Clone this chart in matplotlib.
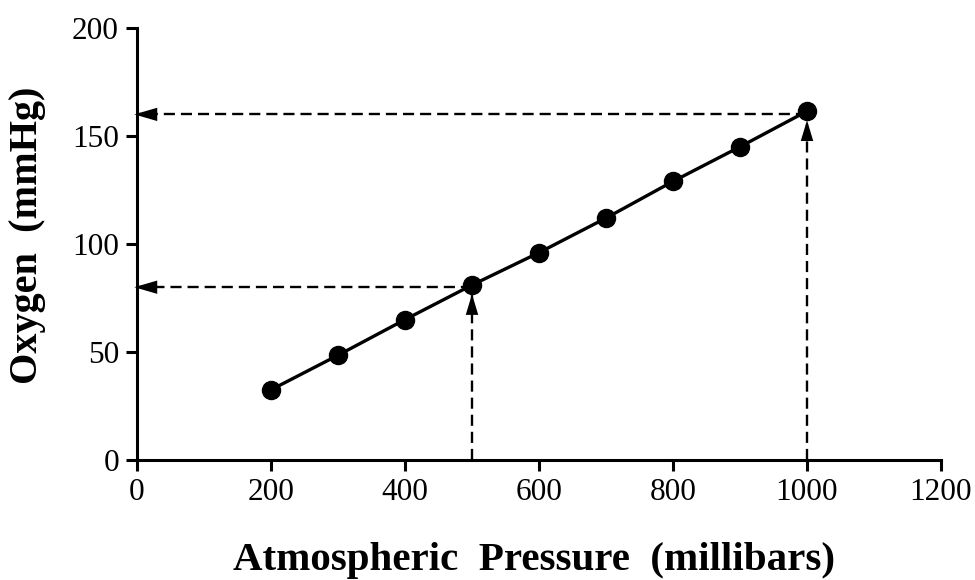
import numpy as np
import matplotlib
matplotlib.use("Agg")
import matplotlib.pyplot as plt

# données
pressure = [200, 300, 400, 500, 600, 700, 800, 900, 1000]   # millibars
oxygen = [32.5, 48.5, 65, 81, 96, 112, 129, 145, 161.5]      # mmHg

# lectures montrées par les flèches
guide_x = [500, 1000]
guide_y = [80, 160]

x_ticks = [0, 200, 400, 600, 800, 1000, 1200]
y_ticks = [0, 50, 100, 150, 200]

plt.rcParams['font.family'] = ['Liberation Serif', 'DejaVu Serif']
plt.rcParams['lines.scale_dashes'] = False

fig = plt.figure(figsize=(9.75, 5.8), dpi=100)
ax = fig.add_axes([137/975, 1 - 460/580, 804/975, 432/580])

lw_axis = 2.2
ms = 13
dash = (8, 4.3)

# droite + points
ax.plot(pressure, oxygen, '-', color='black', lw=2.4, zorder=3, clip_on=False)
ax.plot(pressure, oxygen, 'o', color='black', ms=ms, zorder=5, clip_on=False)

# flèches pointillées
for gx, gy in zip(guide_x, guide_y):
    py = oxygen[pressure.index(gx)]
    # verticale : de l'axe x jusqu'au point
    ax.plot([gx, gx], [0, py], color='black', lw=1.7, dashes=dash, zorder=2, clip_on=False)
    ax.annotate('', xy=(gx, py), xytext=(gx, py - 30),
                arrowprops=dict(arrowstyle='-|>,head_length=1.5,head_width=0.45',
                                mutation_scale=10, lw=0, fc='black', ec='black',
                                shrinkA=0, shrinkB=ms / 2),
                zorder=4, annotation_clip=False)
    # horizontale : du point jusqu'à l'axe y
    ax.plot([gx, 0], [gy, gy], color='black', lw=1.7, dashes=dash, zorder=2, clip_on=False)
    ax.annotate('', xy=(-4, gy), xytext=(100, gy),
                arrowprops=dict(arrowstyle='-|>,head_length=1.65,head_width=0.48',
                                mutation_scale=10, lw=0, fc='black', ec='black',
                                shrinkA=0, shrinkB=0),
                zorder=4, annotation_clip=False)

ax.set_xlim(0, 1200)
ax.set_ylim(0, 200)
ax.set_xticks(x_ticks)
ax.set_yticks(y_ticks)

for side in ['top', 'right']:
    ax.spines[side].set_visible(False)
for side in ['left', 'bottom']:
    ax.spines[side].set_linewidth(lw_axis)

ax.tick_params(axis='both', direction='out', length=8, width=lw_axis,
               labelsize=22.5, colors='black')
ax.tick_params(axis='x', pad=5)
ax.tick_params(axis='y', pad=5)

fig.text(534/975, 1 - 570/580, 'Atmospheric  Pressure  (millibars)',
         ha='center', va='baseline', fontsize=29.5, fontweight='bold')
fig.text(28/975, 1 - 235/580, 'Oxygen  (mmHg)', rotation=90,
         ha='center', va='center', fontsize=29, fontweight='bold')

fig.savefig('out.png', dpi=100)
